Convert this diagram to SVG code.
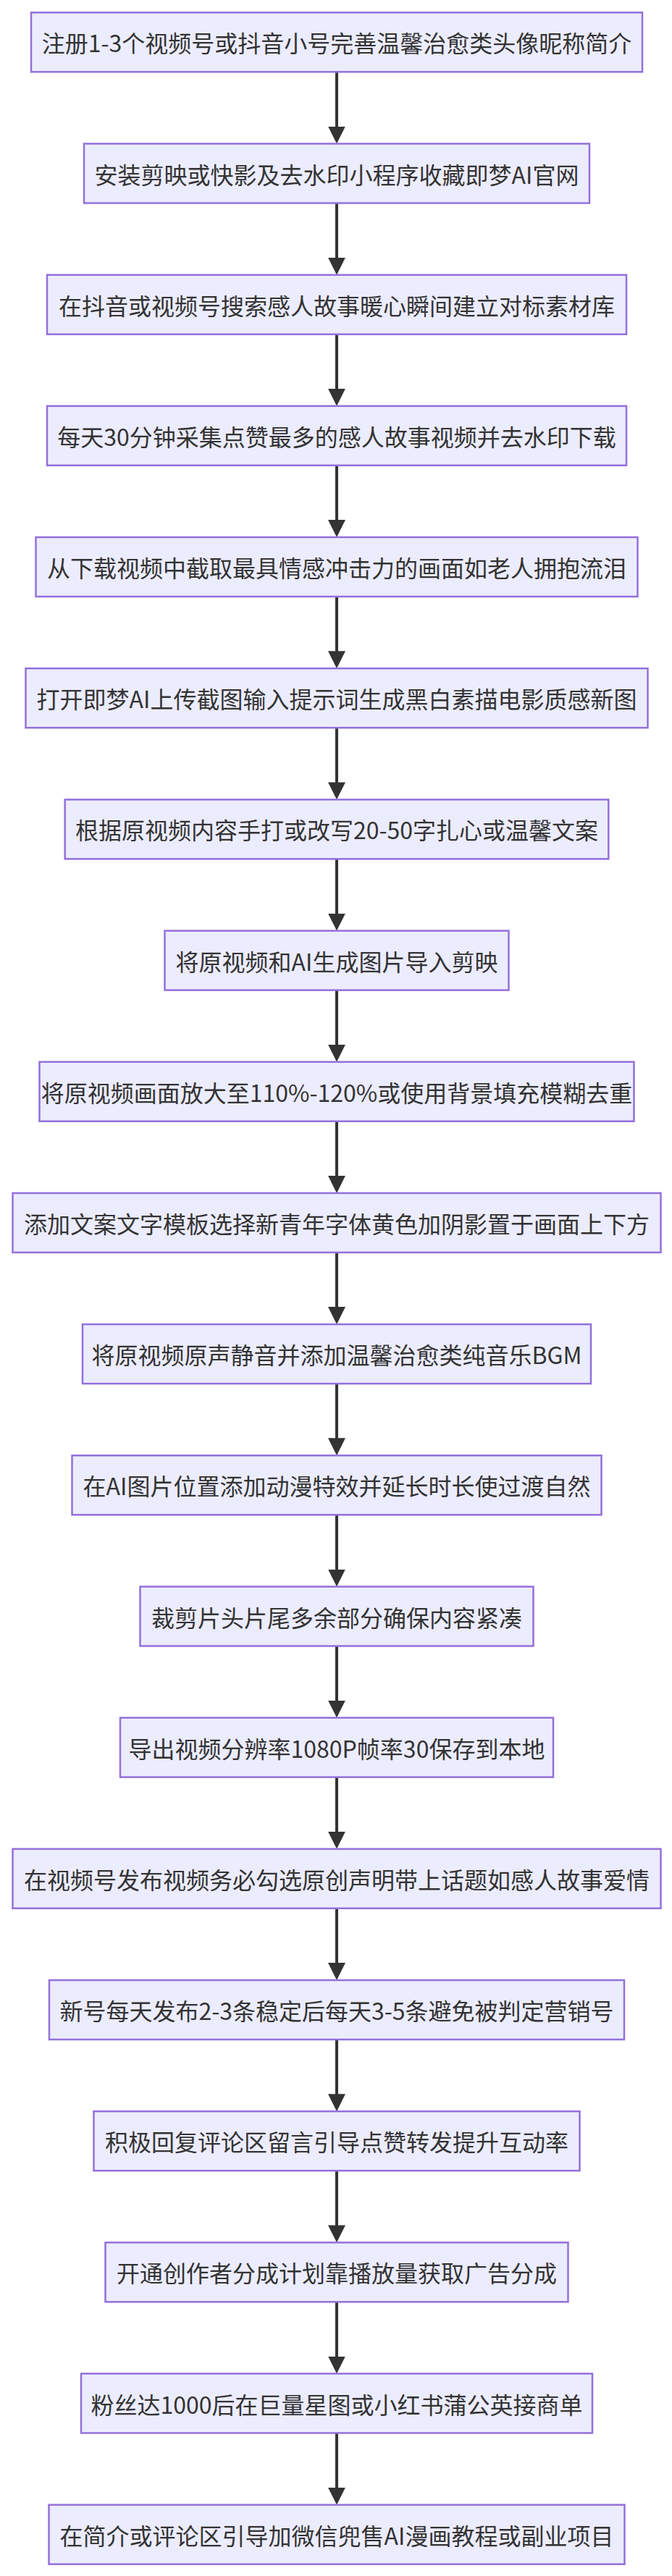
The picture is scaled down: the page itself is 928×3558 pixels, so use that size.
<svg xmlns="http://www.w3.org/2000/svg" width="928" height="3558" viewBox="0 0 928 3558">
<style>
.node rect{fill:#ECECFF;stroke:#9370DB;stroke-width:2.5}
.node text{font-family:"Noto Sans CJK SC","Liberation Sans",sans-serif;font-size:32px;fill:#333333;text-anchor:middle;dominant-baseline:central}
.edge{stroke:#333333;stroke-width:4;fill:none}
</style>
<defs>
<marker id="arrow" viewBox="0 0 24 24" refX="12" refY="12" markerWidth="24" markerHeight="24" markerUnits="userSpaceOnUse" orient="auto">
<path d="M0,0 L24,12 L0,24 z" fill="#333333"/>
</marker>
</defs>
<rect width="928" height="3558" fill="#ffffff"/>
<g id="connectors">
<line class="edge" x1="465" y1="99.3" x2="465" y2="186.5" marker-end="url(#arrow)"/>
<line class="edge" x1="465" y1="280.5" x2="465" y2="367.7" marker-end="url(#arrow)"/>
<line class="edge" x1="465" y1="461.7" x2="465" y2="548.8" marker-end="url(#arrow)"/>
<line class="edge" x1="465" y1="642.8" x2="465" y2="730" marker-end="url(#arrow)"/>
<line class="edge" x1="465" y1="824" x2="465" y2="911.2" marker-end="url(#arrow)"/>
<line class="edge" x1="465" y1="1005.2" x2="465" y2="1092.4" marker-end="url(#arrow)"/>
<line class="edge" x1="465" y1="1186.4" x2="465" y2="1273.6" marker-end="url(#arrow)"/>
<line class="edge" x1="465" y1="1367.6" x2="465" y2="1454.7" marker-end="url(#arrow)"/>
<line class="edge" x1="465" y1="1548.7" x2="465" y2="1635.9" marker-end="url(#arrow)"/>
<line class="edge" x1="465" y1="1729.9" x2="465" y2="1817.1" marker-end="url(#arrow)"/>
<line class="edge" x1="465" y1="1911.1" x2="465" y2="1998.3" marker-end="url(#arrow)"/>
<line class="edge" x1="465" y1="2092.3" x2="465" y2="2179.5" marker-end="url(#arrow)"/>
<line class="edge" x1="465" y1="2273.5" x2="465" y2="2360.6" marker-end="url(#arrow)"/>
<line class="edge" x1="465" y1="2454.6" x2="465" y2="2541.8" marker-end="url(#arrow)"/>
<line class="edge" x1="465" y1="2635.8" x2="465" y2="2723" marker-end="url(#arrow)"/>
<line class="edge" x1="465" y1="2817" x2="465" y2="2904.2" marker-end="url(#arrow)"/>
<line class="edge" x1="465" y1="2998.2" x2="465" y2="3085.4" marker-end="url(#arrow)"/>
<line class="edge" x1="465" y1="3179.4" x2="465" y2="3266.5" marker-end="url(#arrow)"/>
<line class="edge" x1="465" y1="3360.5" x2="465" y2="3447.7" marker-end="url(#arrow)"/>
</g>
<g id="n1" class="node"><rect x="43" y="17.3" width="844" height="82"/><text x="465" y="58.3">注册1-3个视频号或抖音小号完善温馨治愈类头像昵称简介</text></g>
<g id="n2" class="node"><rect x="116" y="198.5" width="698" height="82"/><text x="465" y="239.5">安装剪映或快影及去水印小程序收藏即梦AI官网</text></g>
<g id="n3" class="node"><rect x="65" y="379.7" width="800" height="82"/><text x="465" y="420.7">在抖音或视频号搜索感人故事暖心瞬间建立对标素材库</text></g>
<g id="n4" class="node"><rect x="65" y="560.8" width="800" height="82"/><text x="465" y="601.8">每天30分钟采集点赞最多的感人故事视频并去水印下载</text></g>
<g id="n5" class="node"><rect x="49.5" y="742" width="831" height="82"/><text x="465" y="783">从下载视频中截取最具情感冲击力的画面如老人拥抱流泪</text></g>
<g id="n6" class="node"><rect x="35.5" y="923.2" width="859" height="82"/><text x="465" y="964.2">打开即梦AI上传截图输入提示词生成黑白素描电影质感新图</text></g>
<g id="n7" class="node"><rect x="89.7" y="1104.4" width="750.6" height="82"/><text x="465" y="1145.4">根据原视频内容手打或改写20-50字扎心或温馨文案</text></g>
<g id="n8" class="node"><rect x="227.5" y="1285.6" width="475" height="82"/><text x="465" y="1326.6">将原视频和AI生成图片导入剪映</text></g>
<g id="n9" class="node"><rect x="54.5" y="1466.7" width="821" height="82"/><text x="465" y="1507.7">将原视频画面放大至110%-120%或使用背景填充模糊去重</text></g>
<g id="n10" class="node"><rect x="17.5" y="1647.9" width="895" height="82"/><text x="465" y="1688.9">添加文案文字模板选择新青年字体黄色加阴影置于画面上下方</text></g>
<g id="n11" class="node"><rect x="114" y="1829.1" width="702" height="82"/><text x="465" y="1870.1">将原视频原声静音并添加温馨治愈类纯音乐BGM</text></g>
<g id="n12" class="node"><rect x="99.5" y="2010.3" width="731" height="82"/><text x="465" y="2051.3">在AI图片位置添加动漫特效并延长时长使过渡自然</text></g>
<g id="n13" class="node"><rect x="193.5" y="2191.5" width="543" height="82"/><text x="465" y="2232.5">裁剪片头片尾多余部分确保内容紧凑</text></g>
<g id="n14" class="node"><rect x="166" y="2372.6" width="598" height="82"/><text x="465" y="2413.6">导出视频分辨率1080P帧率30保存到本地</text></g>
<g id="n15" class="node"><rect x="17.5" y="2553.8" width="895" height="82"/><text x="465" y="2594.8">在视频号发布视频务必勾选原创声明带上话题如感人故事爱情</text></g>
<g id="n16" class="node"><rect x="68" y="2735" width="794" height="82"/><text x="465" y="2776">新号每天发布2-3条稳定后每天3-5条避免被判定营销号</text></g>
<g id="n17" class="node"><rect x="129.5" y="2916.2" width="671" height="82"/><text x="465" y="2957.2">积极回复评论区留言引导点赞转发提升互动率</text></g>
<g id="n18" class="node"><rect x="145.5" y="3097.4" width="639" height="82"/><text x="465" y="3138.4">开通创作者分成计划靠播放量获取广告分成</text></g>
<g id="n19" class="node"><rect x="112" y="3278.5" width="706" height="82"/><text x="465" y="3319.5">粉丝达1000后在巨量星图或小红书蒲公英接商单</text></g>
<g id="n20" class="node"><rect x="67.5" y="3459.7" width="795" height="82"/><text x="465" y="3500.7">在简介或评论区引导加微信兜售AI漫画教程或副业项目</text></g>
</svg>
